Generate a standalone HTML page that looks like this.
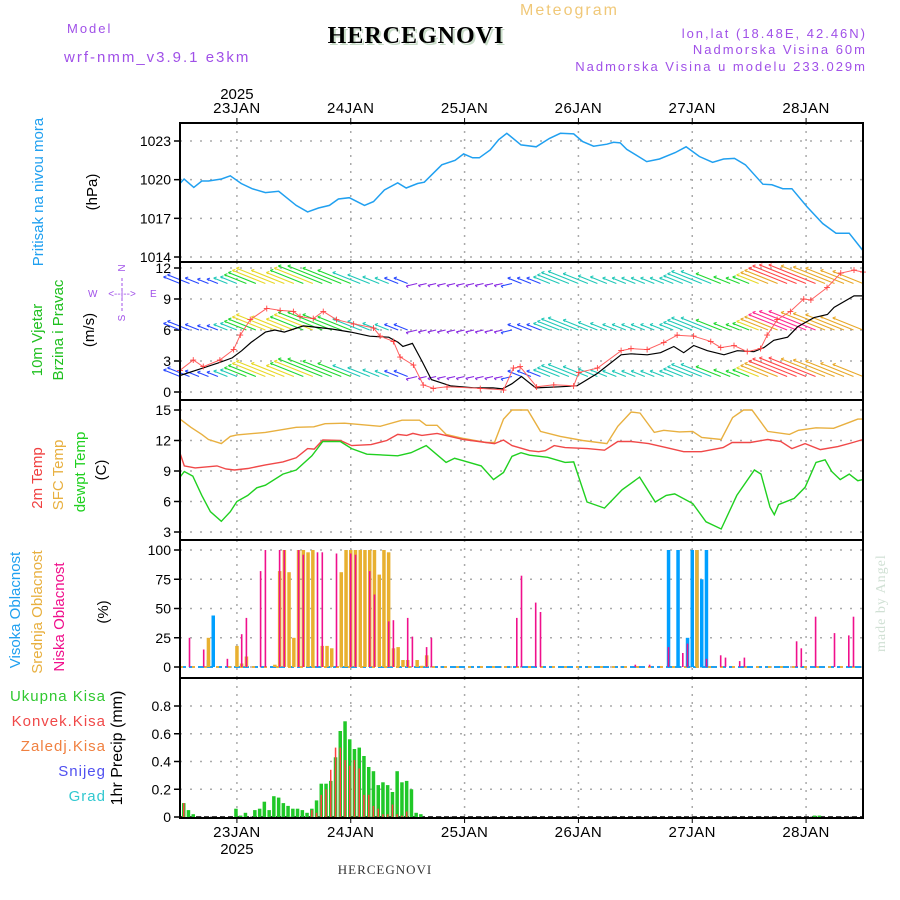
<!DOCTYPE html>
<html><head><meta charset="utf-8"><style>
html,body{margin:0;padding:0;background:#fff;}
svg{display:block;}
text{font-family:"Liberation Sans",sans-serif;}
.rot{font-family:"Liberation Sans Narrow","Liberation Sans",sans-serif;font-size:15px;}
.tick{font-size:14px;fill:#000;}
.hdr{font-size:13px;letter-spacing:2px;fill:#a050e8;}
</style></head><body>
<svg id="chart" width="900" height="900" viewBox="0 0 900 900" xmlns="http://www.w3.org/2000/svg">
<text x="520" y="15" style="font-size:16px;letter-spacing:2px;fill:#f0c878">Meteogram</text>
<text x="67" y="33" class="hdr">Model</text>
<text x="64" y="62" class="hdr" style="font-size:15px">wrf-nmm_v3.9.1 e3km</text>
<text x="418" y="45" text-anchor="middle" style="font-family:'Liberation Serif',serif;font-weight:bold;font-size:24px;fill:#c8dcc8;letter-spacing:1px">HERCEGNOVI</text>
<text x="416" y="43" text-anchor="middle" style="font-family:'Liberation Serif',serif;font-weight:bold;font-size:24px;fill:#000;letter-spacing:1px">HERCEGNOVI</text>
<text x="867" y="38" text-anchor="end" class="hdr">lon,lat (18.48E, 42.46N)</text>
<text x="867" y="54" text-anchor="end" class="hdr">Nadmorska Visina 60m</text>
<text x="867" y="71" text-anchor="end" class="hdr">Nadmorska Visina u modelu 233.029m</text>
<text x="385" y="874" text-anchor="middle" style="font-family:'Liberation Serif',serif;font-size:13px;fill:#333;letter-spacing:1px">HERCEGNOVI</text>
<text transform="translate(885,652) rotate(-90)" style="font-family:'Liberation Serif',serif;font-size:14px;fill:#d0e0d4;letter-spacing:1px">made by Angel</text>

<text class="rot" transform="translate(43,192) rotate(-90)" text-anchor="middle" fill="#20a0f0">Pritisak na nivou mora</text>
<text class="rot" transform="translate(97,192) rotate(-90)" text-anchor="middle" fill="#000">(hPa)</text>
<text class="rot" transform="translate(42,340) rotate(-90)" text-anchor="middle" fill="#20c020">10m Vjetar</text>
<text class="rot" transform="translate(63,330) rotate(-90)" text-anchor="middle" fill="#20c020">Brzina i Pravac</text>
<text class="rot" transform="translate(94,330) rotate(-90)" text-anchor="middle" fill="#000">(m/s)</text>
<g fill="#a050e8" style="font-size:10px">
<text x="122" y="271" text-anchor="middle" transform="rotate(-90 122 268)">N</text>
<text x="88" y="297">W</text><text x="150" y="297">E</text>
<text x="122" y="297" text-anchor="middle">&lt;--|--&gt;</text>
<text x="122" y="321" text-anchor="middle" transform="rotate(-90 122 318)">S</text>
<line x1="122" y1="278" x2="122" y2="312" stroke="#a050e8" stroke-dasharray="3,2"/>
</g>
<text class="rot" transform="translate(42,478) rotate(-90)" text-anchor="middle" fill="#f04040">2m Temp</text>
<text class="rot" transform="translate(63,475) rotate(-90)" text-anchor="middle" fill="#e8b040">SFC Temp</text>
<text class="rot" transform="translate(85,472) rotate(-90)" text-anchor="middle" fill="#20d020">dewpt Temp</text>
<text class="rot" transform="translate(106,470) rotate(-90)" text-anchor="middle" fill="#000">(C)</text>
<text class="rot" transform="translate(20,610) rotate(-90)" text-anchor="middle" fill="#20a0f0">Visoka Oblacnost</text>
<text class="rot" transform="translate(42,612) rotate(-90)" text-anchor="middle" fill="#e8b040">Srednja Oblacnost</text>
<text class="rot" transform="translate(64,617) rotate(-90)" text-anchor="middle" fill="#f0108c">Niska Oblacnost</text>
<text class="rot" transform="translate(108,612) rotate(-90)" text-anchor="middle" fill="#000">(%)</text>
<g style="font-size:15px;letter-spacing:1px" text-anchor="end">
<text x="106" y="701" fill="#30c830">Ukupna Kisa</text>
<text x="106" y="726" fill="#f04848">Konvek.Kisa</text>
<text x="106" y="751" fill="#f08040">Zaledj.Kisa</text>
<text x="106" y="776" fill="#5050f0">Snijeg</text>
<text x="106" y="801" fill="#30c8d0">Grad</text>
</g>
<text class="rot" transform="translate(122,748) rotate(-90)" text-anchor="middle" fill="#000" style="font-size:16px">1hr Precip (mm)</text>
<g id="plots"></g>
</svg>
<script>
// ---- data ----
var dayLabels=["23JAN","24JAN","25JAN","26JAN","27JAN","28JAN"];
var dayHours=[12,36,60,84,108,132];
var presHours=[0,0.86,2.9,4.6,6.0,8.75,10.6,12.9,15.2,18.0,20.8,24.5,26.9,29.2,31.5,33.4,35.7,38.9,40.8,43.1,45.9,47.7,50.1,51.5,55.2,58.0,59.8,61.7,63.1,65.4,67.2,68.9,71.9,75.1,77.9,80.2,83.0,84.9,87.2,90.0,91.4,92.8,94.2,98.4,101.1,104.4,106.7,109.5,112.3,114.6,116.9,119.2,122.9,124.8,127.1,129.0,132.2,135.5,138.3,141.1,144];
var presVals=[1019.7,1020.05,1019.4,1019.9,1019.9,1020.05,1020.3,1019.7,1019.3,1019,1019.1,1018,1017.5,1017.8,1018,1018.5,1018.6,1018,1018.3,1019.2,1019.75,1019.35,1019.7,1019.8,1021.15,1021.5,1022,1021.7,1021.7,1022.3,1023.1,1023.6,1022.7,1022.55,1023.2,1023.6,1023.55,1022.95,1022.6,1022.75,1022.9,1022.85,1022.35,1021.4,1021.6,1022.1,1022.55,1021.8,1021.35,1021.6,1021.65,1021.15,1019.65,1019.6,1019.3,1019.3,1017.9,1016.6,1015.85,1015.85,1014.5];
var presTicks=[1014,1017,1020,1023];
var gustHours=[0,2.8,4.9,8.4,11.3,12.7,14.8,18.3,21.1,23.9,25.3,28.1,30.2,33,36.6,40.8,42.2,45,46.4,49.2,51.3,53.4,56.3,63.3,68.2,70.3,71.7,75.2,78.8,83,84.1,88,93,95.1,98.5,102,104.8,108.3,111.9,114,116.8,119.6,122.4,123.8,125.9,128.7,131.5,133,136.4,139.3,142.1,144];
var gustVals=[2.1,3.1,2.45,3.1,4.1,5.5,7.0,8.1,7.9,7.8,7.3,7.1,7.8,7.0,6.6,6.2,5.4,4.9,3.4,2.6,0.7,0.35,0.5,0.35,0.2,2.3,2.45,0.5,0.7,0.6,1.9,2.3,4.0,4.2,4.1,4.8,5.5,5.4,4.9,4.3,4.5,3.9,4.2,5.5,7.0,7.8,9.0,8.9,10.1,11.5,11.8,11.6];
var windHours=[0,4,8,11,13,15,18,20,22,24,26,28,32,36,40,44,46,47,49,51,53,57,62,66,68,70,72,75,80,83.7,88,93,95.1,98.5,101.3,104.1,106.2,108.3,111.2,114.7,117.5,121,123.1,125.2,128.1,130.2,133.7,136.5,137.9,142.1,144];
var windVals=[1.6,2.2,2.8,3.3,4.0,4.8,5.8,6.0,5.8,6.1,6.4,6.3,6.1,5.8,5.4,5.3,4.8,4.4,4.7,3.0,1.2,0.6,0.4,0.4,0.3,0.8,1.5,0.4,0.5,0.6,1.8,3.6,3.7,3.6,3.8,4.4,3.8,4.5,4.0,3.6,4.0,3.9,4.3,5.0,5.3,6.3,7.2,7.5,8.2,9.3,9.3];
var windTicks=[0,3,6,9,12];
var vecHours=[0,2,4,6,8,10,12,14,16,18,20,22,24,26,28,30,32,34,36,38,40,42,44,46,48,50,52,54,56,58,60,62,64,66,68,70,72,74,76,78,80,82,84,86,88,90,92,94,96,98,100,102,104,106,108,110,112,114,116,118,120,122,124,126,128,130,132,134,136,138,140,142,144];
var vecDir=[185,185,180,178,175,170,160,150,140,130,128,130,135,140,138,140,145,148,150,155,160,165,170,180,185,200,205,205,205,205,205,205,205,205,205,190,185,182,180,170,160,155,155,158,162,165,165,165,165,165,165,165,165,160,155,155,155,150,145,145,140,125,120,115,110,108,108,110,112,115,118,120,120];
var vecSpeed=[3,4,2.5,2,2,2.5,3,4,5,6,7,6,5,6,7,8,8,7,6,5,4,3,2.5,2.5,2.5,2,1.5,1.5,1.5,1.5,1.5,1.5,1.5,1.5,1.5,2,2.5,2.5,2.5,3,4,5,5.5,4.5,3.5,3,2.5,2.5,2.5,2.5,2.5,2.5,2.5,3.5,4.5,5.5,5.5,4.5,3,2.5,3,4,5,6,7,8,8.5,8.5,8,7.5,7,6,5.5];
var vecRows=[10.5,6,1.5];
var sfcHours=[0,2.3,4.6,6,8.7,10.6,12,18,24.5,28.2,30.6,34.7,42.2,46.8,50.5,51.9,54.2,56.1,59.8,64.5,66.3,68.2,70,73.3,76,80.2,84.9,90,92.3,95.1,97,100,102,105.3,108.1,110,114.1,116.5,118.8,120.6,123.9,128.5,130.4,134.1,137.8,141.5,142.9,144];
var sfcVals=[14.1,13.3,12.6,12.1,11.7,12.4,12.55,12.8,13.3,13.35,13.65,13.7,13.4,14,14,13.5,13.5,12.6,12.2,11.8,11.8,14.1,15,15,12.9,12.4,12,11.7,13.4,14.8,14.7,12.8,13,12.85,12.9,12.3,12.1,14.25,15,15,12.9,12.6,13,13.25,13.2,13.85,14.1,14.1];
var t2Hours=[0,0.9,3.2,7.8,9.7,11.5,14.3,18,21.7,24.5,26.9,28.3,30.1,33.8,36.2,40.3,43.6,45.9,47.8,49.1,51,54.2,59.8,66.3,68.2,70,73.7,75.6,77,78.9,81.2,85.9,89.5,92.3,95.1,98.8,102.5,106.2,109.9,114.5,116.4,120.2,123.9,126.7,129,131.8,135,138.7,141.5,144];
var t2Vals=[10.76,9.5,9.3,9.5,9.2,9.1,9.25,9.6,9.9,10.3,11.2,11.15,12.05,12,11.5,11.6,12,12.6,12.5,12.7,12.5,12.7,12.1,11.7,12.05,11.5,11,10.9,11,11.5,11.3,11.2,11.05,11.9,11.9,11.7,11.3,10.9,10.9,11.3,11.8,11.8,12.1,11.9,11.2,11.7,11.1,11.4,11.75,12.1];
var tdHours=[0,0.9,2.7,4.6,6.4,8.7,10.6,12,14.3,16.2,18,21.7,24.5,27.8,30.1,33.8,36.2,39.4,45.9,48.7,51.9,56.1,57.9,59.8,63.5,66.1,68.2,70,71.9,73.7,77.5,81.2,83,85.8,89.5,93.2,96.9,100.2,102.5,104.3,108.1,110.9,114.1,117.4,121.1,122.5,124.4,125.3,126.2,129.5,131.8,134.1,136,137.4,139.2,141.1,142.9,144];
var tdVals=[8.4,8.95,8.5,6.6,5,4.05,5,6,6.6,7.35,7.6,8.7,9.1,10.5,11.9,11.9,11.2,10.65,10.5,10.8,11.5,9.85,10.25,10,9.5,8.15,8.85,10.45,10.8,10.55,10.35,9.85,9.9,5.95,5.35,7.15,8.4,5.95,6.6,6.75,5.8,4,3.3,6.6,9.1,8.7,5.45,4.7,5.7,6.3,7.4,9.85,10.1,8.95,8.15,8.7,8.05,8.15];
var tempTicks=[3,6,9,12,15];
var highHours=[6,7,40,103,105,107,108,109,110,111];
var highVals=[6,44,45,100,100,25,100,100,75,100];
var midHours=[6,12,13,14,20,21,22,23,24,25,26,27,28,30,31,32,34,35,36,37,38,39,40,41,42,43,44,45,46,47,48,50,51,52,109];
var midVals=[25,18,3,9,2,82,100,81,25,100,100,98,100,18,18,16,81,100,100,100,100,100,100,100,79,100,98,16,17,6,6,6,1,10,100];
var lowHours=[2,5,10,13,14,17,18,21,22,25,26,29,30,33,36,37,40,41,44,45,48,49,52,53,71,72,75,76,96,99,103,106,107,111,114,115,118,119,130,131,134,138,141,142];
var lowVals=[25,15,7,28,42,82,100,100,100,100,96,98,98,97,97,96,82,62,39,40,42,26,17,25,42,78,55,47,2,2,17,12,20,7,10,8,5,8,22,16,43,29,27,43];
var cloudTicks=[0,25,50,75,100];
var precipHours=[1,2,3,12,13,14,16,17,18,19,20,21,22,23,24,25,26,27,28,29,30,31,32,33,34,35,36,37,38,39,40,41,42,43,44,45,46,47,48,49,50,51,134,135];
var precipTotal=[0.10,0.05,0.02,0.06,0.01,0.03,0.05,0.06,0.11,0.05,0.15,0.14,0.10,0.08,0.06,0.06,0.05,0.03,0.06,0.12,0.24,0.24,0.26,0.43,0.62,0.69,0.56,0.49,0.50,0.44,0.36,0.33,0.23,0.25,0.23,0.18,0.33,0.25,0.26,0.20,0.03,0.02,0.01,0.01];
var convHours=[1,28,29,30,31,32,33,34,35,36,37,38,39,40,41,42,43,44,45,46,47,48];
var convVals=[0.10,0.05,0.03,0.16,0.20,0.34,0.50,0.50,0.41,0.37,0.41,0.35,0.16,0.16,0.08,0.06,0.02,0.02,0.09,0.02,0.01,0.04];
var precipTicks=[0,0.2,0.4,0.6,0.8];
var precipTickLabels=["0","0.2","0.4","0.6","0.8"];

// ---- geometry ----
var L=180,R=863,NS="http://www.w3.org/2000/svg";
function X(h){return L+h*(R-L)/144;}
function lin(v0,y0,v1,y1){return function(v){return y0+(v-v0)*(y1-y0)/(v1-v0);};}
var Yp=lin(1014,257,1023,141), Yw=lin(0,392,12,268), Yt=lin(3,532,15,410), Yc=lin(0,667,100,550), Yr=lin(0,817,0.8,706);
var panels=[[123,262,Yp,presTicks,null,"pressure"],[262,400,Yw,windTicks,null,"wind"],[400,540,Yt,tempTicks,null,"temperature"],[540,678,Yc,cloudTicks,null,"cloud"],[678,818,Yr,precipTicks,precipTickLabels,"precip"]];
var G=document.getElementById('plots');
function mk(tag,attrs,parent){var e=document.createElementNS(NS,tag);for(var k in attrs)e.setAttribute(k,attrs[k]);(parent||G).appendChild(e);return e;}
function poly(hs,vs,Y,color,name,w){var n=Math.min(hs.length,vs.length),pts=[];for(var i=0;i<n;i++)pts.push(X(hs[i]).toFixed(1)+","+Y(vs[i]).toFixed(1));var p=mk('polyline',{points:pts.join(' '),fill:'none',stroke:color,'stroke-width':w||1.4});


return p;}

panels.forEach(function(p){
  var g=mk('g',{});
  
  
  dayHours.forEach(function(h){var l=mk('line',{x1:X(h),x2:X(h),y1:p[0],y2:p[1],stroke:'#aaa','stroke-dasharray':'2,6','stroke-width':1.5},g);
    
    });
  p[3].forEach(function(v,i){var y=p[2](v);
    var l=mk('line',{x1:L,x2:R,y1:y,y2:y,stroke:'#aaa','stroke-dasharray':'2,8','stroke-width':1.5},g);
    
    
    mk('line',{x1:L-6,x2:L,y1:y,y2:y,stroke:'#000','stroke-width':1.5},g);
    var t=mk('text',{x:L-9,y:y+5,'text-anchor':'end','class':'tick'},g);t.textContent=p[4]?p[4][i]:v;
    
    });
});
dayHours.forEach(function(h,i){
  var t=mk('text',{x:X(h),y:113,'text-anchor':'middle',style:'font-size:15px;letter-spacing:0.5px'});t.textContent=dayLabels[i];
  
  
  var b=mk('text',{x:X(h),y:837,'text-anchor':'middle',style:'font-size:15px;letter-spacing:0.5px'});b.textContent=dayLabels[i];
  
  
  mk('line',{x1:X(h),x2:X(h),y1:118,y2:123,stroke:'#000'});
  mk('line',{x1:X(h),x2:X(h),y1:818,y2:823,stroke:'#000'});
});
var y1=mk('text',{x:X(12),y:99,'text-anchor':'middle',style:'font-size:15px'});y1.textContent="2025";


var y2=mk('text',{x:X(12),y:854,'text-anchor':'middle',style:'font-size:15px'});y2.textContent="2025";



poly(presHours,presVals,Yp,'#20a0f0','pressure-line',1.5);

function dirColor(d,row){if(d>=195)return '#8a2be2';if(d>=175)return '#2848ff';if(d>=155)return '#20c8b8';if(d>=140)return '#20d830';if(d>=125)return '#e8d828';if(d>=112)return '#e8a828';return row==1?'#ff2890':'#ff4848';}
vecRows.forEach(function(base,row){
  var by=Yw(base);
  for(var i=0;i<Math.min(vecHours.length,vecDir.length,vecSpeed.length);i++){
    var x=X(vecHours[i]),s=vecSpeed[i],d=vecDir[i];
    var dx=-5.5*s, dy=d<190?-2.2*s:1.3*s;
    var c=dirColor(d,row);
    var l=mk('line',{x1:x,y1:by,x2:x+dx,y2:by+dy,stroke:c,'stroke-width':1.1});
    
    
    mk('line',{x1:x+dx,y1:by+dy,x2:x+dx+3,y2:by+dy-1,stroke:c,'stroke-width':1});
    mk('line',{x1:x+dx,y1:by+dy,x2:x+dx+2,y2:by+dy+1.5,stroke:c,'stroke-width':1});
  }
});
poly(windHours,windVals,Yw,'#000','mean-wind-line',1.2);
poly(gustHours,gustVals,Yw,'#ff6060','gust-line',1);
for(var i=0;i<Math.min(gustHours.length,gustVals.length);i++){
  var t=mk('text',{x:X(gustHours[i]),y:Yw(gustVals[i])+4,'text-anchor':'middle',fill:'#ff4040',style:'font-size:12px'});t.textContent='+';
  
  
}

poly(sfcHours,sfcVals,Yt,'#e8b040','sfc-temp-line',1.4);
poly(t2Hours,t2Vals,Yt,'#f04848','temp-2m-line',1.4);
poly(tdHours,tdVals,Yt,'#20d020','dewpoint-line',1.4);

mk('line',{x1:L,x2:R,y1:667,y2:667,stroke:'#20a0f0','stroke-width':2,'stroke-dasharray':'6,3'});
mk('line',{x1:L,x2:R,y1:667,y2:667,stroke:'#e8b040','stroke-width':2,'stroke-dasharray':'3,9'});
function bars(hs,vs,Y,y0,w,color,name,off){
  for(var i=0;i<Math.min(hs.length,vs.length);i++){
    var x=X(hs[i])+(off||0),y=Y(vs[i]);
    var r=mk('rect',{x:(x-w/2).toFixed(1),y:y.toFixed(1),width:w,height:Math.max(0,y0-y).toFixed(1),fill:color});
    
    
  }
}
bars(highHours,highVals,Yc,667,3.5,'#00a0ff','high-cloud-bar');
bars(midHours,midVals,Yc,667,3.5,'#e8b030','mid-cloud-bar');
bars(lowHours,lowVals,Yc,667,1.6,'#f0108c','low-cloud-bar');

mk('line',{x1:L,x2:R,y1:817,y2:817,stroke:'#000','stroke-width':1.5,'stroke-dasharray':'5,3'});
bars(precipHours,precipTotal,Yr,817,3.5,'#20c828','total-precip-bar',-1);
bars(convHours,convVals,Yr,817,1.5,'#ff4040','convective-precip-bar',-1);

panels.forEach(function(p){var r=mk('rect',{x:L,y:p[0],width:R-L,height:p[1]-p[0],fill:'none',stroke:'#000','stroke-width':2});
  
  });
</script>
</body></html>
